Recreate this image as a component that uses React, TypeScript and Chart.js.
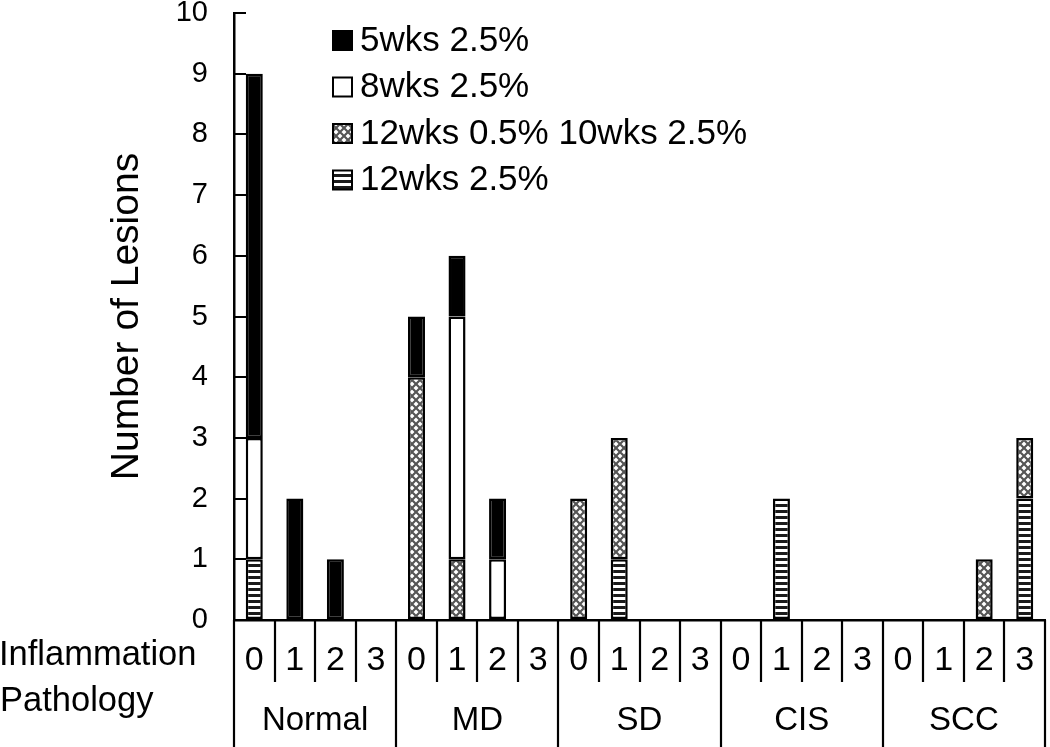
import React, { useEffect, useRef } from 'react';
import { Chart, registerables } from 'chart.js';

Chart.register(...registerables);

const FONT = '"Liberation Sans", Arial, sans-serif';

const inflammationLevels = ['0', '1', '2', '3'];
const pathologyGroups = ['Normal', 'MD', 'SD', 'CIS', 'SCC'];
const categories = pathologyGroups.flatMap((g) => inflammationLevels.map((l) => `${g} ${l}`));

const seriesLabels = ['12wks 2.5%', '12wks 0.5% 10wks 2.5%', '8wks 2.5%', '5wks 2.5%'];
// stacked bottom -> top
const wks12_25 = [1, 0, 0, 0, 0, 0, 0, 0, 0, 1, 0, 0, 0, 2, 0, 0, 0, 0, 0, 2];
const wks12_05 = [0, 0, 0, 0, 4, 1, 0, 0, 2, 2, 0, 0, 0, 0, 0, 0, 0, 0, 1, 1];
const wks8_25 = [2, 0, 0, 0, 0, 4, 1, 0, 0, 0, 0, 0, 0, 0, 0, 0, 0, 0, 0, 0];
const wks5_25 = [6, 2, 1, 0, 1, 1, 1, 0, 0, 0, 0, 0, 0, 0, 0, 0, 0, 0, 0, 0];

const yMin = 0;
const yMax = 10;
const yStep = 1;

const yTitle = 'Number of Lesions';
const rowLabelTop = 'Inflammation';
const rowLabelBottom = 'Pathology';

function makeStripes(): CanvasPattern | string {
  const c = document.createElement('canvas');
  c.width = 6;
  c.height = 6;
  const g = c.getContext('2d');
  if (!g) return '#555';
  g.fillStyle = '#ffffff';
  g.fillRect(0, 0, 6, 6);
  g.fillStyle = '#1a1a1a';
  g.fillRect(0, 0, 6, 3);
  return g.createPattern(c, 'repeat') || '#555';
}

function makeCross(): CanvasPattern | string {
  const c = document.createElement('canvas');
  c.width = 8;
  c.height = 8;
  const g = c.getContext('2d');
  if (!g) return '#aaa';
  g.fillStyle = '#ffffff';
  g.fillRect(0, 0, 8, 8);
  g.strokeStyle = '#555555';
  g.lineWidth = 2.2;
  g.beginPath();
  g.moveTo(-1, -1);
  g.lineTo(9, 9);
  g.moveTo(9, -1);
  g.lineTo(-1, 9);
  g.stroke();
  return g.createPattern(c, 'repeat') || '#aaa';
}

export default function App() {
  const ref = useRef<HTMLCanvasElement>(null);

  useEffect(() => {
    if (!ref.current) return;
    const stripes = makeStripes();
    const cross = makeCross();
    const fills = [stripes, cross, '#ffffff', '#000000'];
    const seriesData = [wks12_25, wks12_05, wks8_25, wks5_25];

    const decor = {
      id: 'decor',
      afterDraw(chart: any) {
        const ctx = chart.ctx as CanvasRenderingContext2D;
        const x = chart.scales.x;
        const area = chart.chartArea;
        const H = chart.height;
        ctx.save();
        ctx.strokeStyle = '#000';
        ctx.lineWidth = 2.2;
        const n = categories.length;
        for (let i = 0; i <= n; i++) {
          const px = Math.round(x.getPixelForValue(i - 0.5));
          const long = i % inflammationLevels.length === 0;
          ctx.beginPath();
          ctx.moveTo(px, area.bottom);
          ctx.lineTo(px, long ? H : area.bottom + 62);
          ctx.stroke();
        }
        ctx.fillStyle = '#000';
        ctx.textAlign = 'center';
        ctx.textBaseline = 'middle';
        ctx.font = `34px ${FONT}`;
        categories.forEach((_, i) => {
          ctx.fillText(inflammationLevels[i % inflammationLevels.length], x.getPixelForValue(i), area.bottom + 41);
        });
        ctx.font = `33px ${FONT}`;
        const k = inflammationLevels.length;
        pathologyGroups.forEach((g, gi) => {
          const cx = (x.getPixelForValue(gi * k - 0.5) + x.getPixelForValue(gi * k + k - 0.5)) / 2;
          ctx.fillText(g, cx, area.bottom + 101);
        });
        ctx.textAlign = 'left';
        ctx.font = `34.5px ${FONT}`;
        ctx.fillText(rowLabelTop, -1, area.bottom + 35);
        ctx.fillText(rowLabelBottom, 0, area.bottom + 81);

        // legend
        const ds = chart.data.datasets;
        ctx.font = `35px ${FONT}`;
        for (let j = ds.length - 1, r = 0; j >= 0; j--, r++) {
          const cy = 41 + r * 46.5;
          ctx.fillStyle = ds[j].backgroundColor;
          ctx.fillRect(333, cy - 10, 19, 19);
          ctx.strokeStyle = '#000';
          ctx.lineWidth = 2;
          ctx.strokeRect(333, cy - 10, 19, 19);
          ctx.fillStyle = '#000';
          ctx.fillText(ds[j].label, 360, cy);
        }
        ctx.restore();
      },
    };

    const chart = new Chart(ref.current, {
      type: 'bar',
      data: {
        labels: categories,
        datasets: seriesLabels.map((label, i) => ({
          label,
          data: seriesData[i],
          backgroundColor: fills[i] as any,
          borderColor: '#000',
          borderWidth: 2.5,
          borderSkipped: false,
          barPercentage: 0.42,
          categoryPercentage: 1,
        })),
      },
      options: {
        responsive: false,
        animation: false,
        layout: { padding: { top: 13, right: 5, left: 0, bottom: 0 } },
        plugins: { legend: { display: false }, tooltip: { enabled: false } },
        scales: {
          x: {
            stacked: true,
            offset: true,
            ticks: { display: false },
            grid: { display: false },
            border: { color: '#000', width: 2.5 },
            afterFit: (s: any) => {
              s.height = 127;
              s.paddingLeft = 0;
              s.paddingRight = 0;
            },
          },
          y: {
            stacked: true,
            min: yMin,
            max: yMax,
            ticks: {
              stepSize: yStep,
              color: '#000',
              font: { size: 29, family: FONT },
              padding: 38,
            },
            grid: {
              drawOnChartArea: false,
              drawTicks: true,
              tickLength: -12,
              color: '#000',
              lineWidth: 2,
            },
            border: { color: '#000', width: 2.5 },
            title: {
              display: true,
              text: yTitle,
              color: '#000',
              font: { size: 39, family: FONT },
              padding: { top: 104, bottom: 0 },
            },
            afterFit: (s: any) => {
              s.width = 234;
              s.paddingTop = 0;
              s.paddingBottom = 0;
            },
          },
        },
      },
      plugins: [decor],
    });
    return () => chart.destroy();
  }, []);

  return (
    <div style={{ position: 'absolute', left: 0, top: 0, width: 1050, height: 747, background: '#fff' }}>
      <canvas ref={ref} width={1050} height={747} style={{ width: 1050, height: 747, display: 'block' }} />
    </div>
  );
}
